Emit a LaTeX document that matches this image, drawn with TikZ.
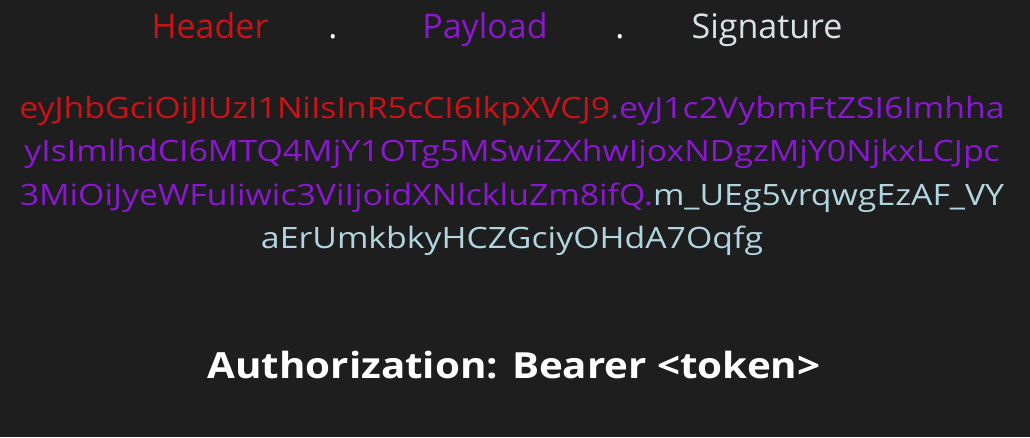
\documentclass[tikz,border=0pt]{standalone}
\usepackage{fontspec}
\setmainfont{Open Sans}
\usepackage{xcolor}
\usepackage{graphicx}
\usepackage{tikz}
\definecolor{bgdark}{HTML}{1E1E1E}
\definecolor{hdred}{HTML}{CC1218}
\definecolor{plpurple}{HTML}{8A18D0}
\definecolor{sigblue}{HTML}{B2D6DF}
\definecolor{sigwhite}{HTML}{D9E3E7}
\newcommand{\widetok}[1]{\scalebox{1.15}[1]{#1}}
\tikzset{part/.style={anchor=base, inner sep=0pt,
         font=\fontsize{34}{34}\selectfont},
         tokline/.style={anchor=base, inner sep=0pt,
         font=\fontsize{29.4}{29.4}\selectfont}}

\begin{document}
\begin{tikzpicture}[x=1pt,y=-1pt]
\fill[bgdark] (0,0) rectangle (1030,437);
\node[part, text=hdred] (header) at (210,38) {Header};
\node[part, text=white] (dota) at (333,38) {.};
\node[part, text=plpurple] (payload) at (485,38) {Payload};
\node[part, text=white] (dotb) at (620,38) {.};
\node[part, text=sigwhite] (signature) at (767,38) {Signature};
\node[tokline] (linea) at (512,118) {\widetok{\textcolor{hdred}{eyJhbGciOiJIUzI1NiIsInR5cCI6IkpXVCJ9}\textcolor{plpurple}{.eyJ1c2VybmFtZSI6Imhha}}};
\node[tokline, text=plpurple] (lineb) at (512,161) {\widetok{yIsImlhdCI6MTQ4MjY1OTg5MSwiZXhwIjoxNDgzMjY0NjkxLCJpc}};
\node[tokline] (linec) at (512,205) {\widetok{\textcolor{plpurple}{3MiOiJyeWFuIiwic3ViIjoidXNlckluZm8ifQ.}\textcolor{sigblue}{m\_UEg5vrqwgEzAF\_VY}}};
\node[tokline, text=sigblue] (lined) at (512,248) {\widetok{aErUmkbkyHCZGciyOHdA7Oqfg}};
\node[anchor=base, inner sep=0pt, text=white, font=\fontsize{36}{36}\selectfont\bfseries] (authz) at (514,378) {\scalebox{1.12}[1]{Authorization: Bearer <token>}};
\end{tikzpicture}
\end{document}
